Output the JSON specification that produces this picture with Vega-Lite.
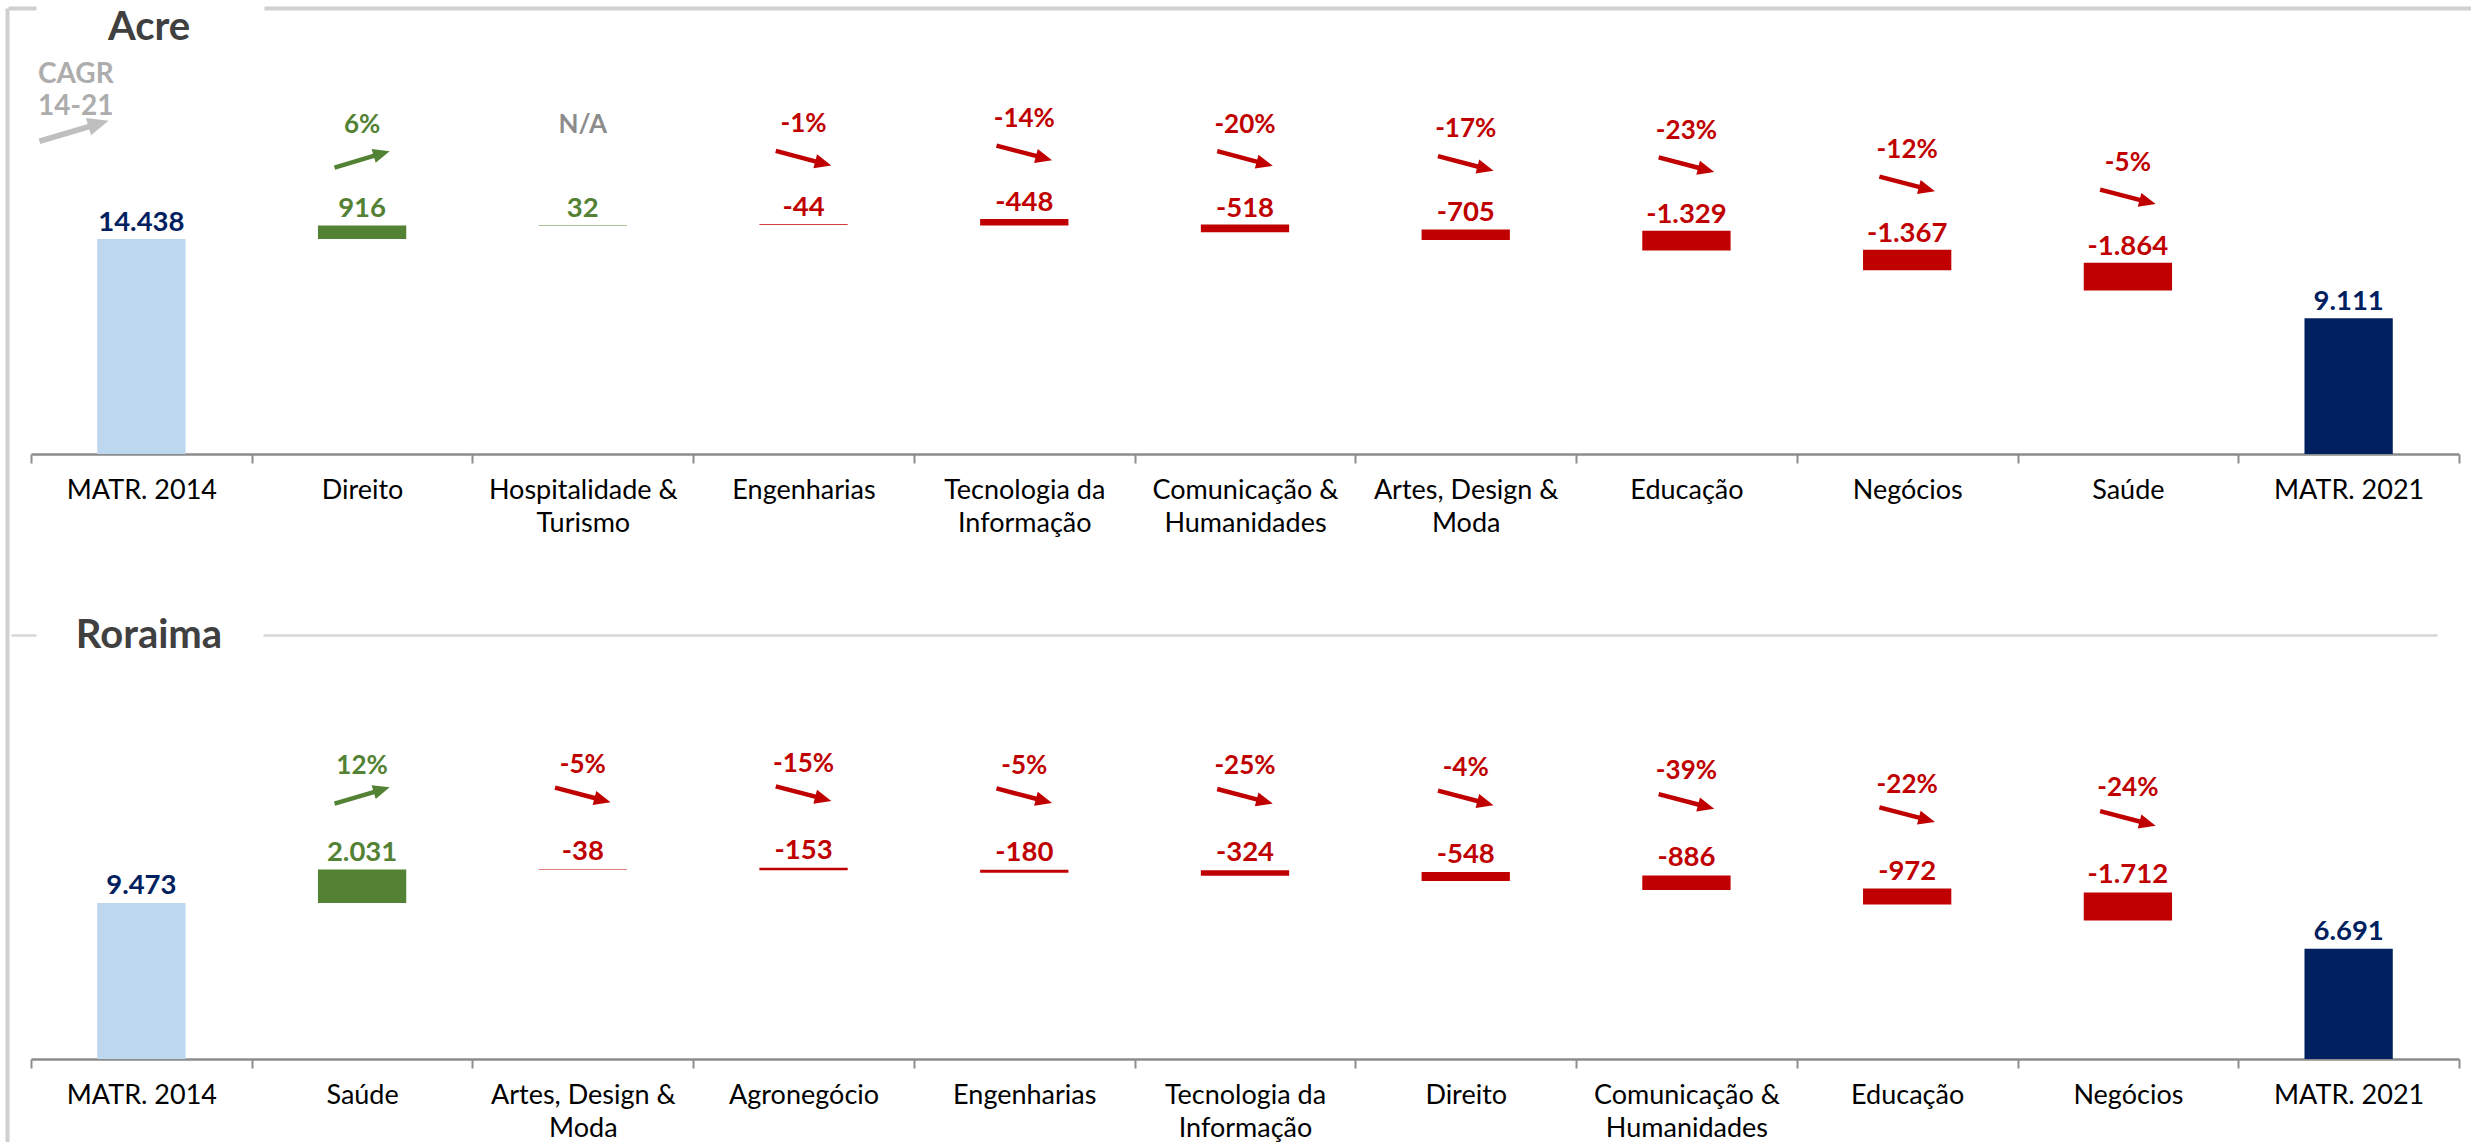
{
  "$schema": "https://vega.github.io/schema/vega-lite/v6.json",
  "background": "white",
  "padding": {"left": 7, "top": 8, "right": 0, "bottom": 0},
  "config": {
    "font": "Lato",
    "view": {"stroke": null},
    "locale": {"number": {"decimal": ",", "thousands": ".", "grouping": [3], "currency": ["R$", ""], "minus": "-"}},
    "legend": {"symbolBaseFillColor": "#BFBFBF", "symbolBaseStrokeColor": "#BFBFBF"}
  },
  "datasets": {
    "acre": [
      {"cat": "MATR. 2014", "kind": "start", "lo": 0, "hi": 14438, "amount": 14438},
      {"cat": "Direito", "kind": "up", "lo": 14438, "hi": 15354, "amount": 916, "cagr": 0.06},
      {"cat": "Hospitalidade & Turismo", "kind": "up", "lo": 15354, "hi": 15386, "amount": 32, "cagr": null},
      {"cat": "Engenharias", "kind": "down", "lo": 15386, "hi": 15430, "amount": -44, "cagr": -0.01},
      {"cat": "Tecnologia da Informação", "kind": "down", "lo": 15342, "hi": 15790, "amount": -448, "cagr": -0.14},
      {"cat": "Comunicação & Humanidades", "kind": "down", "lo": 14894, "hi": 15412, "amount": -518, "cagr": -0.20},
      {"cat": "Artes, Design & Moda", "kind": "down", "lo": 14376, "hi": 15081, "amount": -705, "cagr": -0.17},
      {"cat": "Educação", "kind": "down", "lo": 13671, "hi": 15000, "amount": -1329, "cagr": -0.23},
      {"cat": "Negócios", "kind": "down", "lo": 12342, "hi": 13709, "amount": -1367, "cagr": -0.12},
      {"cat": "Saúde", "kind": "down", "lo": 10975, "hi": 12839, "amount": -1864, "cagr": -0.05},
      {"cat": "MATR. 2021", "kind": "end", "lo": 0, "hi": 9111, "amount": 9111}
    ],
    "roraima": [
      {"cat": "MATR. 2014", "kind": "start", "lo": 0, "hi": 9473, "amount": 9473},
      {"cat": "Saúde", "kind": "up", "lo": 9473, "hi": 11504, "amount": 2031, "cagr": 0.12},
      {"cat": "Artes, Design & Moda", "kind": "down", "lo": 11504, "hi": 11542, "amount": -38, "cagr": -0.05},
      {"cat": "Agronegócio", "kind": "down", "lo": 11466, "hi": 11619, "amount": -153, "cagr": -0.15},
      {"cat": "Engenharias", "kind": "down", "lo": 11313, "hi": 11493, "amount": -180, "cagr": -0.05},
      {"cat": "Tecnologia da Informação", "kind": "down", "lo": 11133, "hi": 11457, "amount": -324, "cagr": -0.25},
      {"cat": "Direito", "kind": "down", "lo": 10809, "hi": 11357, "amount": -548, "cagr": -0.04},
      {"cat": "Comunicação & Humanidades", "kind": "down", "lo": 10261, "hi": 11147, "amount": -886, "cagr": -0.39},
      {"cat": "Educação", "kind": "down", "lo": 9375, "hi": 10347, "amount": -972, "cagr": -0.22},
      {"cat": "Negócios", "kind": "down", "lo": 8403, "hi": 10115, "amount": -1712, "cagr": -0.24},
      {"cat": "MATR. 2021", "kind": "end", "lo": 0, "hi": 6691, "amount": 6691}
    ]
  },
  "bounds": "flush",
  "spacing": 0,
  "resolve": {"scale": {"x": "independent", "y": "independent"}},
  "hconcat": [
    {
      "width": 1,
      "height": 1134,
      "data": {"values": [{}]},
      "mark": {"type": "rule", "opacity": 0},
      "encoding": {
        "y": {"datum": 0, "type": "quantitative", "scale": {"domain": [0, 1]},
          "axis": {"title": null, "labels": false, "ticks": false, "grid": false, "domain": true, "domainColor": "#D0D0D0", "domainWidth": 4, "minExtent": 0, "maxExtent": 0}}
      }
    },
    {
      "bounds": "flush",
      "spacing": 181,
      "resolve": {"scale": {"x": "independent", "y": "independent", "color": "independent", "shape": "independent"}, "legend": {"shape": "independent", "color": "independent"}},
      "vconcat": [
        {
          "width": 2463,
          "height": 446,
          "data": {"name": "acre"},
          "title": {"text": "Acre", "anchor": "start", "align": "center", "dx": 141, "offset": -72, "baseline": "alphabetic", "frame": "group", "font": "Lato", "fontSize": 40, "fontWeight": "bold", "color": "#404040"},
          "resolve": {"axis": {"x": "independent"}},
          "layer": [
            {
              "mark": {"type": "bar", "width": {"band": 0.4}},
              "encoding": {
                "x": {"field": "cat", "type": "nominal",
                  "scale": {"domain": ["MATR. 2014", "Direito", "Hospitalidade & Turismo", "Engenharias", "Tecnologia da Informação", "Comunicação & Humanidades", "Artes, Design & Moda", "Educação", "Negócios", "Saúde", "MATR. 2021"], "paddingInner": 0, "paddingOuter": 0.0793, "align": 0.657},
                  "axis": {"orient": "bottom", "title": null, "domain": true, "domainColor": "#8C8C8C", "domainWidth": 2.5, "domainDash": [0, 23, 2428, 200], "ticks": true, "tickBand": "extent", "tickColor": "#8C8C8C", "tickWidth": 2, "tickSize": 9, "labelFont": "Lato", "labelFontSize": 27, "labelColor": "#000000", "labelPadding": 14, "labelAngle": 0, "labelLineHeight": 33, "labelOverlap": false, "labelBound": false, "labelLimit": 400, "grid": false,
                    "labelExpr": "indexof(datum.label,'& ')>0 ? [substring(datum.label,0,indexof(datum.label,'& ')+1), substring(datum.label,indexof(datum.label,'& ')+2)] : indexof(datum.label,' da ')>0 ? [substring(datum.label,0,indexof(datum.label,' da ')+3), substring(datum.label,indexof(datum.label,' da ')+4)] : datum.label"}},
                "y": {"field": "lo", "type": "quantitative", "scale": {"domain": [0, 29953], "nice": false, "zero": true}, "axis": null},
                "y2": {"field": "hi"},
                "color": {"field": "kind", "type": "nominal", "scale": {"domain": ["start", "up", "down", "end"], "range": ["#BDD7EE", "#548235", "#C00000", "#002060"]}, "legend": null}
              }
            },
            {
              "mark": {"type": "text", "dy": -8, "baseline": "alphabetic", "fontSize": 27.5, "fontWeight": "bold"},
              "encoding": {
                "x": {"field": "cat", "type": "nominal",
                  "axis": {"orient": "top", "title": null, "domain": true, "domainColor": "#D0D0D0", "domainWidth": 4, "domainDash": [28, 228, 3000], "ticks": false, "labels": false, "grid": false}},
                "y": {"field": "hi", "type": "quantitative"},
                "text": {"field": "amount", "type": "quantitative", "format": ",d"},
                "color": {"condition": {"test": "datum.kind === 'start'", "value": "#002060"}, "field": "kind", "type": "nominal", "legend": null}
              }
            },
            {
              "transform": [{"filter": "datum.kind === 'up' || datum.kind === 'down'"}],
              "mark": {"type": "text", "dy": -92, "baseline": "alphabetic", "fontSize": 26, "fontWeight": "bold"},
              "encoding": {
                "x": {"field": "cat", "type": "nominal", "axis": null},
                "y": {"field": "hi", "type": "quantitative"},
                "text": {"condition": {"test": "!isValid(datum.cagr)", "value": "N/A"}, "field": "cagr", "type": "quantitative", "format": ".0%"},
                "color": {"condition": {"test": "!isValid(datum.cagr)", "value": "#8C8C8C"}, "field": "kind", "type": "nominal", "legend": null}
              }
            },
            {
              "transform": [{"filter": "isValid(datum.cagr)"}],
              "mark": {"type": "point", "filled": true, "opacity": 1, "size": 3300, "yOffset": -66, "strokeWidth": 0},
              "encoding": {
                "x": {"field": "cat", "type": "nominal", "axis": null},
                "y": {"field": "hi", "type": "quantitative"},
                "shape": {"field": "kind", "type": "nominal",
                  "scale": {"domain": ["up", "down"], "range": ["M-0.981,0.209L0.381,-0.194L0.332,-0.359L0.959,-0.284L0.474,0.120L0.425,-0.045L-0.937,0.359Z", "M-0.947,-0.329L0.426,0.031L0.470,-0.135L0.967,0.254L0.343,0.349L0.386,0.182L-0.987,-0.179Z"]},
                  "legend": {"orient": "none", "legendX": 30, "legendY": 53, "values": ["up"], "title": ["CAGR", "14-21"], "titleFont": "Lato", "titleFontSize": 28, "titleFontWeight": "bold", "titleColor": "#ADADAD", "titleLineHeight": 32, "titlePadding": -26, "titleLimit": 500, "symbolSize": 5184, "symbolFillColor": "#BFBFBF", "symbolStrokeColor": "#BFBFBF", "symbolStrokeWidth": 0, "symbolOpacity": 1, "labelExpr": "''", "padding": 0, "symbolOffset": 0}},
                "color": {"field": "kind", "type": "nominal", "legend": null}
              }
            }
          ]
        },
        {
          "width": 2463,
          "height": 424,
          "data": {"name": "roraima"},
          "title": {"text": "Roraima", "anchor": "start", "align": "center", "dx": 141, "offset": -53, "baseline": "alphabetic", "frame": "group", "font": "Lato", "fontSize": 40, "fontWeight": "bold", "color": "#404040"},
          "resolve": {"axis": {"x": "independent"}},
          "layer": [
            {
              "mark": {"type": "bar", "width": {"band": 0.4}},
              "encoding": {
                "x": {"field": "cat", "type": "nominal",
                  "scale": {"domain": ["MATR. 2014", "Saúde", "Artes, Design & Moda", "Agronegócio", "Engenharias", "Tecnologia da Informação", "Direito", "Comunicação & Humanidades", "Educação", "Negócios", "MATR. 2021"], "paddingInner": 0, "paddingOuter": 0.0793, "align": 0.657},
                  "axis": {"orient": "bottom", "title": null, "domain": true, "domainColor": "#8C8C8C", "domainWidth": 2.5, "domainDash": [0, 23, 2428, 200], "ticks": true, "tickBand": "extent", "tickColor": "#8C8C8C", "tickWidth": 2, "tickSize": 9, "labelFont": "Lato", "labelFontSize": 27, "labelColor": "#000000", "labelPadding": 14, "labelAngle": 0, "labelLineHeight": 33, "labelOverlap": false, "labelBound": false, "labelLimit": 400, "grid": false,
                    "labelExpr": "indexof(datum.label,'& ')>0 ? [substring(datum.label,0,indexof(datum.label,'& ')+1), substring(datum.label,indexof(datum.label,'& ')+2)] : indexof(datum.label,' da ')>0 ? [substring(datum.label,0,indexof(datum.label,' da ')+3), substring(datum.label,indexof(datum.label,' da ')+4)] : datum.label"}},
                "y": {"field": "lo", "type": "quantitative", "scale": {"domain": [0, 25744], "nice": false, "zero": true}, "axis": null},
                "y2": {"field": "hi"},
                "color": {"field": "kind", "type": "nominal", "scale": {"domain": ["start", "up", "down", "end"], "range": ["#BDD7EE", "#548235", "#C00000", "#002060"]}, "legend": null}
              }
            },
            {
              "mark": {"type": "text", "dy": -9, "baseline": "alphabetic", "fontSize": 27.5, "fontWeight": "bold"},
              "encoding": {
                "x": {"field": "cat", "type": "nominal",
                  "axis": {"orient": "top", "title": null, "domain": true, "domainColor": "#D6D6D6", "domainWidth": 2.5, "domainDash": [0, 3, 25, 227, 2174, 500], "ticks": false, "labels": false, "grid": false}},
                "y": {"field": "hi", "type": "quantitative"},
                "text": {"field": "amount", "type": "quantitative", "format": ",d"},
                "color": {"condition": {"test": "datum.kind === 'start'", "value": "#002060"}, "field": "kind", "type": "nominal", "legend": null}
              }
            },
            {
              "transform": [{"filter": "datum.kind === 'up' || datum.kind === 'down'"}],
              "mark": {"type": "text", "dy": -96, "baseline": "alphabetic", "fontSize": 26, "fontWeight": "bold"},
              "encoding": {
                "x": {"field": "cat", "type": "nominal", "axis": null},
                "y": {"field": "hi", "type": "quantitative"},
                "text": {"condition": {"test": "!isValid(datum.cagr)", "value": "N/A"}, "field": "cagr", "type": "quantitative", "format": ".0%"},
                "color": {"condition": {"test": "!isValid(datum.cagr)", "value": "#8C8C8C"}, "field": "kind", "type": "nominal", "legend": null}
              }
            },
            {
              "transform": [{"filter": "isValid(datum.cagr)"}],
              "mark": {"type": "point", "filled": true, "opacity": 1, "size": 3300, "yOffset": -74, "strokeWidth": 0},
              "encoding": {
                "x": {"field": "cat", "type": "nominal", "axis": null},
                "y": {"field": "hi", "type": "quantitative"},
                "shape": {"field": "kind", "type": "nominal",
                  "scale": {"domain": ["up", "down"], "range": ["M-0.981,0.209L0.381,-0.194L0.332,-0.359L0.959,-0.284L0.474,0.120L0.425,-0.045L-0.937,0.359Z", "M-0.947,-0.329L0.426,0.031L0.470,-0.135L0.967,0.254L0.343,0.349L0.386,0.182L-0.987,-0.179Z"]},
                  "legend": null},
                "color": {"field": "kind", "type": "nominal", "legend": null}
              }
            }
          ]
        }
      ]
    }
  ]
}
